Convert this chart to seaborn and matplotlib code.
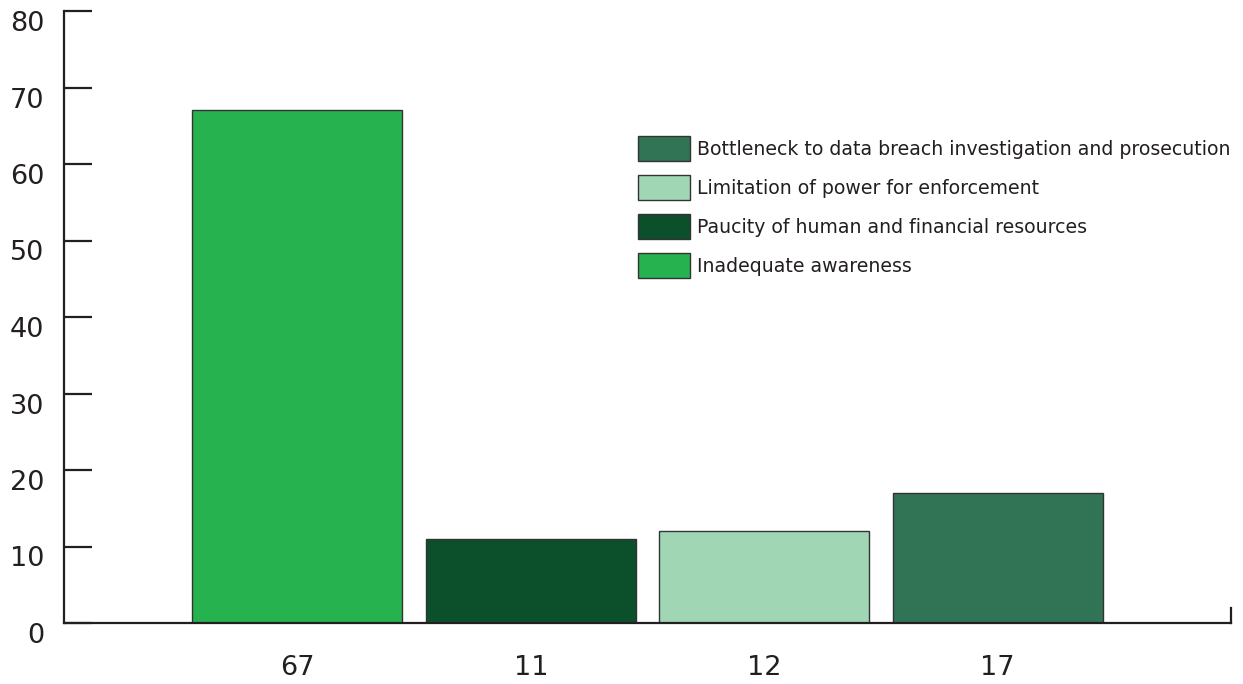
import matplotlib
matplotlib.use("Agg")
import matplotlib.pyplot as plt
from matplotlib.transforms import ScaledTranslation
from matplotlib.patches import Patch
import seaborn as sns
import pandas as pd

# Survey results: challenges reported by data-protection authorities
categories = [
    "Inadequate awareness",
    "Paucity of human and financial resources",
    "Limitation of power for enforcement",
    "Bottleneck to data breach investigation and prosecution",
]
values = [67, 11, 12, 17]
tick_labels = ["67", "11", "12", "17"]
colors = ["#26B24F", "#0C4F2B", "#A1D6B5", "#317355"]

sns.set_theme(style="white")
plt.rcParams["font.family"] = ["DejaVu Sans"]

df = pd.DataFrame({"label": tick_labels, "value": values, "category": categories})
palette = dict(zip(categories, colors))

fig = plt.figure(figsize=(12.43, 6.84), dpi=100)
ax = fig.add_axes([64 / 1243, 61 / 684, (1231 - 64) / 1243, (623 - 11) / 684])

sns.barplot(data=df, x="label", y="value", hue="category", palette=palette,
            dodge=False, width=0.9, saturation=1, edgecolor="#333333",
            linewidth=1.0, legend=False, ax=ax)

ax.set_xlim(-1, 4)
ax.set_ylim(0, 80)
ax.set_yticks(range(0, 81, 10))
ax.set_xlabel("")
ax.set_ylabel("")

# Axis lines: left and bottom, plus a short stub at the right end
ax.spines["top"].set_visible(False)
for side in ["left", "bottom", "right"]:
    ax.spines[side].set_color("#231f20")
    ax.spines[side].set_linewidth(1.6)
ax.spines["right"].set_bounds(0, 2)

ax.tick_params(axis="y", direction="in", length=20, width=1.6, color="#231f20",
               labelsize=19.5, labelcolor="#231f20", pad=14, left=True)
ax.tick_params(axis="x", length=0, labelsize=19.5, labelcolor="#231f20", pad=23)

# Shift y tick labels slightly below their tick marks
offset = ScaledTranslation(0, -10 / 100, fig.dpi_scale_trans)
for lbl in ax.get_yticklabels():
    lbl.set_transform(lbl.get_transform() + offset)

# Legend listed in reverse bar order
handles = [Patch(facecolor=palette[c], edgecolor="#333333", linewidth=1.0)
           for c in categories[::-1]]
ax.legend(handles, categories[::-1], loc="upper left",
          bbox_to_anchor=((638 - 64) / (1231 - 64), (623 - 136) / (623 - 11)),
          frameon=False, fontsize=13.6, handlelength=2.75, handleheight=1.67,
          handletextpad=0.37, labelspacing=0.74, borderpad=0, borderaxespad=0,
          labelcolor="#231f20")

fig.savefig("out.png", dpi=100)
